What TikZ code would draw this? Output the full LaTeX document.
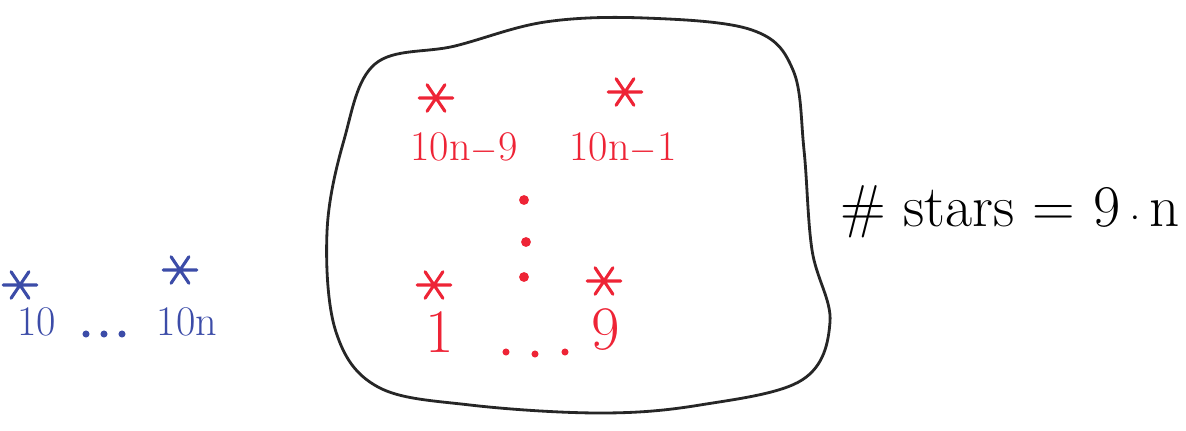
\documentclass[tikz,border=0pt]{standalone}
\usepackage{fontspec}
\usepackage{xcolor}
\definecolor{penred}{HTML}{EE2436}
\definecolor{penblue}{HTML}{3C4CA8}
\tikzset{
  % a hand-drawn asterisk: colour, scale
  ast/.style 2 args={draw=none, minimum size=11mm, inner sep=0pt,
    path picture={\draw[#1, line width=2.2pt, line cap=round,
      shift={(path picture bounding box.center)}, scale=#2]
      (0:0.42cm) -- (180:0.42cm) (56:0.4cm) -- (236:0.4cm)
      (124:0.4cm) -- (304:0.4cm);}},
  % labels under the stars
  lbl/.style={font=\fontsize{30}{34}\selectfont, inner sep=0pt},
  biglbl/.style={font=\fontsize{44}{48}\selectfont, inner sep=0pt},
  % dots
  pt/.style={circle, fill=penred, draw=none, minimum size=#1, inner sep=0pt},
  blob/.style={draw=black!85, line width=2pt},
}

\begin{document}
\begin{tikzpicture}[x=0.025cm, y=-0.025cm]
\useasboundingbox (0,0) rectangle (1186,430);

% the region
\draw[blob] plot[smooth cycle, tension=0.6] coordinates {
  (375,64) (455,46) (545,22) (645,18) (752,30) (793,70) (804,150)
  (812,250) (830,322) (802,380) (700,405) (600,413) (470,405)
  (378,387) (336,332) (327,232) (344,140)};

% blue stars outside
\node[ast={penblue}{0.75}] (b1) at (20,285) {};
\node[ast={penblue}{0.75}] (bn) at (180,270) {};
\node[lbl, text=penblue] (b1l) at (37,322) {10};
\node[lbl, text=penblue] (bnl) at (187,322) {10n};
\node[pt=5pt, fill=penblue] (bd1) at (86,334) {};
\node[pt=5pt, fill=penblue] (bd2) at (104,334) {};
\node[pt=5pt, fill=penblue] (bd3) at (122,334) {};

% red stars inside
\node[ast={penred}{1}] (r9) at (436,98) {};
\node[ast={penred}{1}] (r10) at (625,92) {};
\node[ast={penred}{1}] (r1) at (434,285) {};
\node[ast={penred}{1}] (r2) at (604,281) {};
\node[lbl, text=penred] (r9l) at (464,148) {10n$-$9};
\node[lbl, text=penred] (r10l) at (623,148) {10n$-$1};
\node[biglbl, text=penred] (r1l) at (440,332) {1};
\node[biglbl, text=penred] (r2l) at (606,330) {9};
\node[pt=7pt] (v1) at (524,200) {};
\node[pt=7pt] (v2) at (526,242) {};
\node[pt=7pt] (v3) at (524,277) {};
\node[pt=5pt] (h1) at (506,352) {};
\node[pt=5pt] (h2) at (535,354) {};
\node[pt=5pt] (h3) at (565,352) {};

% the count
\node[font=\fontsize{42}{46}\selectfont, inner sep=0pt] (count) at (1010,212)
  {\# stars = 9\,$\cdot$\,n};

\end{tikzpicture}
\end{document}
